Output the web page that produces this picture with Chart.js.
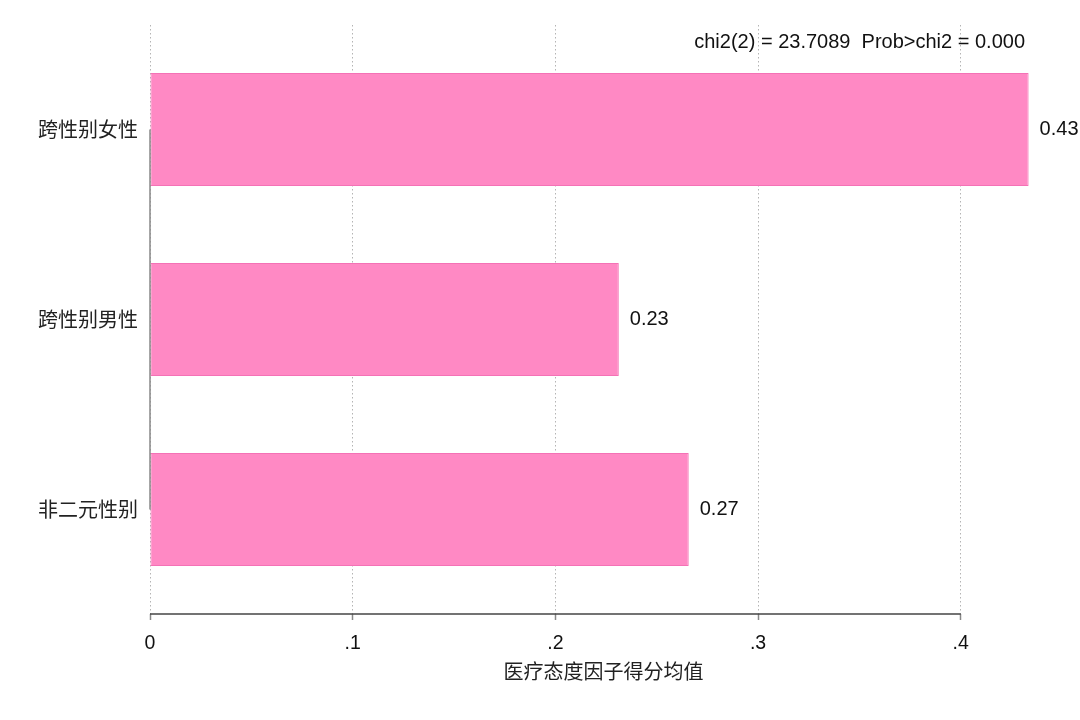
<!DOCTYPE html>
<html>
<head>
<meta charset="utf-8">
<script src="https://cdn.jsdelivr.net/npm/chart.js@4"></script>
<style>
  html, body { margin: 0; padding: 0; background: #fff; }
  #wrap { width: 1080px; height: 720px; }
</style>
</head>
<body>
<div id="wrap"><canvas id="grafico"></canvas></div>
<script>
const categories = ['跨性别女性', '跨性别男性', '非二元性别'];
const means = [0.4335, 0.2313, 0.2658];
const xTicks = [0, 0.1, 0.2, 0.3, 0.4];
const xTickLabels = ['0', '.1', '.2', '.3', '.4'];
const axisTitle = '医疗态度因子得分均值';
const testNote = 'chi2(2) = 23.7089  Prob>chi2 = 0.000';

const latin = '"Liberation Sans", Arial, sans-serif';
const cjk = '"Noto Sans CJK SC", sans-serif';

// linhas dos eixos, rótulos das barras e a nota do teste
const extras = {
  id: 'extras',
  afterDatasetsDraw(chart) {
    const { ctx, chartArea, scales: { x, y } } = chart;
    ctx.save();
    // eixo x, só de 0 a .4
    ctx.strokeStyle = '#444';
    ctx.lineWidth = 1.5;
    ctx.beginPath();
    ctx.moveTo(x.getPixelForValue(xTicks[0]), chartArea.bottom);
    ctx.lineTo(x.getPixelForValue(xTicks[xTicks.length - 1]), chartArea.bottom);
    ctx.stroke();
    // eixo y, entre a primeira e a última categoria
    ctx.strokeStyle = '#888';
    ctx.beginPath();
    ctx.moveTo(x.getPixelForValue(0), y.getPixelForValue(0));
    ctx.lineTo(x.getPixelForValue(0), y.getPixelForValue(categories.length - 1));
    ctx.stroke();
    // valores ao lado das barras
    ctx.fillStyle = '#111';
    ctx.font = '20px ' + latin;
    ctx.textAlign = 'left';
    ctx.textBaseline = 'middle';
    chart.getDatasetMeta(0).data.forEach((bar, i) => {
      ctx.fillText(means[i].toFixed(2), bar.x + 11, bar.y);
    });
    // nota do teste
    ctx.textAlign = 'right';
    ctx.fillText(testNote, 1025, 42);
    ctx.restore();
  }
};

new Chart(document.getElementById('grafico'), {
  type: 'bar',
  data: {
    datasets: [{
      data: means.map((v, i) => ({ x: v, y: i })),
      backgroundColor: '#ff89c4',
      borderColor: '#f472b6',
      borderWidth: 1,
      borderSkipped: false,
      categoryPercentage: 1,
      barPercentage: 0.595
    }]
  },
  options: {
    indexAxis: 'y',
    responsive: true,
    maintainAspectRatio: false,
    animation: false,
    layout: { padding: { top: 25, right: 23, left: 0, bottom: 0 } },
    plugins: {
      legend: { display: false },
      tooltip: { enabled: false }
    },
    scales: {
      x: {
        type: 'linear',
        min: 0,
        max: 0.4475,
        afterBuildTicks: (axis) => { axis.ticks = xTicks.map(v => ({ value: v })); },
        afterFit: (axis) => { axis.height = 106; },
        border: { display: false, dash: [1.5, 2.5] },
        grid: {
          color: '#b4b4b4',
          lineWidth: 1,
          tickColor: '#888',
          tickLength: 6,
          tickWidth: 1.5,
          tickBorderDash: []
        },
        ticks: {
          padding: 12,
          color: '#111',
          font: { family: latin, size: 19.5 },
          maxRotation: 0,
          callback: (v, i) => xTickLabels[i]
        },
        title: {
          display: true,
          text: axisTitle,
          color: '#222',
          font: { family: cjk, size: 20 },
          padding: { top: 4, bottom: 37 }
        }
      },
      y: {
        type: 'linear',
        reverse: true,
        offset: false,
        min: -0.55,
        max: categories.length - 0.45,
        afterBuildTicks: (axis) => { axis.ticks = categories.map((c, i) => ({ value: i })); },
        afterFit: (axis) => { axis.width = 150; },
        border: { display: false },
        grid: { display: false, offset: false },
        ticks: {
          padding: 4,
          color: '#222',
          font: { family: cjk, size: 20 },
          callback: (v) => categories[v]
        }
      }
    }
  },
  plugins: [extras]
});
</script>
</body>
</html>
